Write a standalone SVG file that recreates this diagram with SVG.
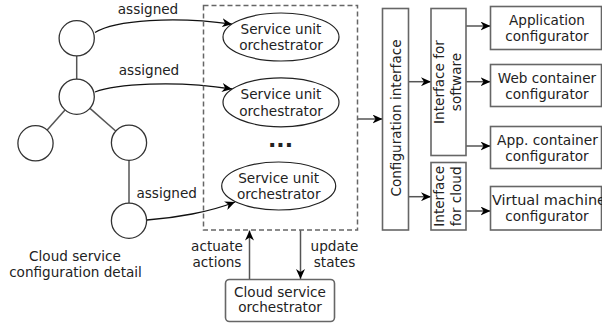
<svg xmlns="http://www.w3.org/2000/svg" width="602" height="326" viewBox="0 0 602 326">
<style>
text{font-family:"DejaVu Sans","Liberation Sans",sans-serif;font-size:13.6px;fill:#222}
.c{text-anchor:middle}
.tree{fill:#fff;stroke:#333;stroke-width:1.3}
.tl{stroke:#555;stroke-width:1.5;fill:none}
.ell{fill:#fff;stroke:#222;stroke-width:1.2}
.box{fill:#fff;stroke:#666;stroke-width:1.6}
.dash{fill:none;stroke:#666;stroke-width:1.5;stroke-dasharray:5 3}
.cv{fill:none;stroke:#111;stroke-width:1.3;marker-end:url(#ah)}
.ar{fill:none;stroke:#555;stroke-width:1.5;marker-end:url(#ah)}
</style>
<defs>
<marker id="ah" markerUnits="userSpaceOnUse" markerWidth="11" markerHeight="9" refX="10" refY="4.5" orient="auto">
<path d="M0,0 L10,4.5 L0,9 L3,4.5 z" fill="#000"/>
</marker>
</defs>

<g id="tree">
<line class="tl" x1="76.7" y1="56" x2="76.7" y2="79"/>
<line class="tl" x1="65" y1="110" x2="47.2" y2="130"/>
<line class="tl" x1="90" y1="108.4" x2="115.7" y2="131"/>
<line class="tl" x1="129" y1="160.4" x2="129" y2="203"/>
<circle id="n1" class="tree" cx="76.7" cy="38.3" r="17.6"/>
<circle id="n2" class="tree" cx="76.7" cy="96.7" r="17.6"/>
<circle id="n3" class="tree" cx="35.5" cy="143.3" r="17.6"/>
<circle id="n4" class="tree" cx="129" cy="142.7" r="17.6"/>
<circle id="n5" class="tree" cx="129" cy="220.7" r="17.6"/>
<text class="c" x="75" y="260.7">Cloud service</text>
<text class="c" x="75.5" y="276.7">configuration detail</text>
</g>

<g id="connectors">
<path class="cv" d="M95,32.5 C115,20 175,16 232,24.2"/>
<path class="cv" d="M95,92 C115,84 175,80 232,89"/>
<path class="cv" d="M147,220 C175,218 210,212 235,202"/>
<text class="c" x="148" y="14">assigned</text>
<text class="c" x="149" y="75">assigned</text>
<text class="c" x="166.7" y="198">assigned</text>
<line class="ar" x1="249.5" y1="279" x2="249.5" y2="230.5"/>
<line class="ar" x1="300.5" y1="230" x2="300.5" y2="279"/>
<text class="c" x="217" y="250.7">actuate</text>
<text class="c" x="217" y="266.7">actions</text>
<text class="c" x="334.5" y="250.7">update</text>
<text class="c" x="334.5" y="266.7">states</text>
<line class="ar" x1="357.7" y1="119" x2="382.5" y2="119"/>
<line class="ar" x1="408.5" y1="81.7" x2="431" y2="81.7"/>
<line class="ar" x1="408.5" y1="196.7" x2="431" y2="196.7"/>
<line class="ar" x1="466" y1="26" x2="490.5" y2="26"/>
<line class="ar" x1="466" y1="81.7" x2="490.5" y2="81.7"/>
<line class="ar" x1="466" y1="146" x2="490.5" y2="146"/>
<line class="ar" x1="466" y1="211" x2="490.5" y2="211"/>
</g>

<g id="orchestrators">
<rect class="dash" x="203.5" y="5.5" width="154" height="224.5"/>
<g id="suo1">
<ellipse class="ell" cx="281" cy="37" rx="58" ry="24"/>
<text class="c" x="281" y="34">Service unit</text>
<text class="c" x="281" y="50">orchestrator</text>
</g>
<g id="suo2">
<ellipse class="ell" cx="281" cy="102.3" rx="58" ry="24.5"/>
<text class="c" x="281" y="99.3">Service unit</text>
<text class="c" x="281" y="115.5">orchestrator</text>
</g>
<text class="c" x="280.5" y="147" style="font-size:22px;font-weight:bold">...</text>
<g id="suo3">
<ellipse class="ell" cx="278.7" cy="186" rx="57" ry="24"/>
<text class="c" x="278.7" y="182.5">Service unit</text>
<text class="c" x="278.7" y="198.5">orchestrator</text>
</g>
</g>

<g id="cso">
<rect class="box" x="225.5" y="279.5" width="109" height="42" rx="4"/>
<text class="c" x="280" y="296.7">Cloud service</text>
<text class="c" x="280" y="312.3">orchestrator</text>
</g>

<g id="config-interface">
<rect class="box" x="382.5" y="8.5" width="26" height="221.5"/>
<text class="c" transform="translate(401,118) rotate(-90)">Configuration interface</text>
</g>

<g id="if-software">
<rect class="box" x="431" y="8.5" width="35" height="147"/>
<text class="c" transform="translate(444.3,82) rotate(-90)">Interface for</text>
<text class="c" transform="translate(460.5,82) rotate(-90)">software</text>
</g>

<g id="if-cloud">
<rect class="box" x="431" y="162.5" width="35" height="67.5"/>
<text class="c" transform="translate(443.5,196.3) rotate(-90)">Interface</text>
<text class="c" transform="translate(461,196.3) rotate(-90)">for cloud</text>
</g>

<g id="app-conf">
<rect class="box" x="490.5" y="6.5" width="111" height="43"/>
<text class="c" x="547" y="25">Application</text>
<text class="c" x="547" y="41">configurator</text>
</g>
<g id="web-conf">
<rect class="box" x="490.5" y="64.5" width="111" height="42"/>
<text class="c" x="547" y="82.5">Web container</text>
<text class="c" x="547" y="98.5">configurator</text>
</g>
<g id="appc-conf">
<rect class="box" x="490.5" y="126.5" width="111" height="42"/>
<text class="c" x="547.5" y="144.5" textLength="101" lengthAdjust="spacingAndGlyphs">App. container</text>
<text class="c" x="547" y="160.5">configurator</text>
</g>
<g id="vm-conf">
<rect class="box" x="490.5" y="186.5" width="111" height="43.5"/>
<text class="c" x="549" y="205" textLength="114" lengthAdjust="spacingAndGlyphs">Virtual machine</text>
<text class="c" x="547" y="221">configurator</text>
</g>
</svg>
